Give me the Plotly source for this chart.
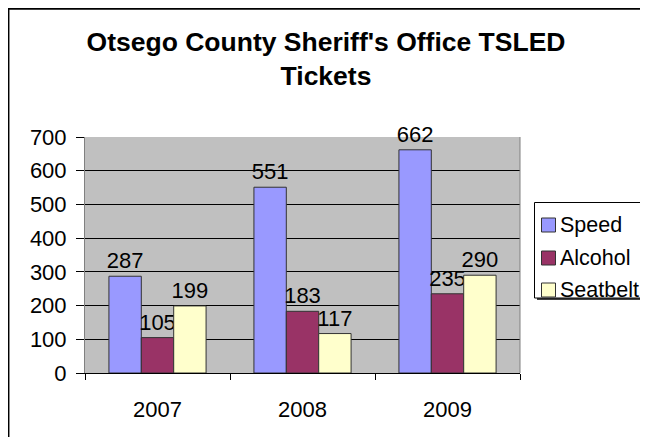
import plotly.graph_objects as go

years = ["2007", "2008", "2009"]
speed = [287, 551, 662]
alcohol = [105, 183, 235]
seatbelt = [199, 117, 290]
series_names = ["Speed", "Alcohol", "Seatbelt"]
colors = ["#9999FF", "#993366", "#FFFFCC"]
y_ticks = [0, 100, 200, 300, 400, 500, 600, 700]
title_text = "Otsego County Sheriff's Office TSLED<br>Tickets"

FONT = "Liberation Sans, Arial, sans-serif"
OFF = 8  # page body margin
W, H = 640, 429
L, R, T, B = 77, 128, 129, 64
PW, PH = W - L - R, H - T - B

def px_x(x_page):
    return (x_page - OFF - L) / PW

def px_y(y_page):
    return (H - B - (y_page - OFF)) / PH

fig = go.Figure()
for name, vals, col in zip(series_names, [speed, alcohol, seatbelt], colors):
    fig.add_trace(go.Bar(
        x=years, y=vals, name=name,
        marker=dict(color=col, line=dict(color="#333333", width=1)),
        text=[str(v) for v in vals], textposition="outside",
        textfont=dict(family=FONT, size=22, color="black"),
        constraintext="none", cliponaxis=False,
    ))

shapes = [
    # chart border (right/bottom run off the picture)
    dict(type="line", xref="paper", yref="paper", x0=px_x(OFF), x1=px_x(700),
         y0=px_y(OFF + 0.8), y1=px_y(OFF + 0.8), line=dict(color="black", width=2)),
    dict(type="line", xref="paper", yref="paper", x0=px_x(OFF + 0.7), x1=px_x(OFF + 0.7),
         y0=px_y(OFF), y1=px_y(500), line=dict(color="black", width=1.5)),
    # plot area border
    dict(type="line", xref="paper", yref="paper", x0=1, x1=1, y0=0, y1=1,
         line=dict(color="#808080", width=1)),
    # legend shadow + box
    dict(type="rect", xref="paper", yref="paper", x0=px_x(537), x1=px_x(700),
         y0=px_y(300), y1=px_y(205), fillcolor="#404040", line=dict(width=0)),
    dict(type="rect", xref="paper", yref="paper", x0=px_x(534.5), x1=px_x(700),
         y0=px_y(298), y1=px_y(202.5), fillcolor="white", line=dict(color="black", width=1)),
]
annotations = []
legend_y = [225, 258, 290]
for name, col, yc in zip(series_names, colors, legend_y):
    shapes.append(dict(type="rect", xref="paper", yref="paper",
                       x0=px_x(541.5), x1=px_x(555.5), y0=px_y(yc + 7), y1=px_y(yc - 7),
                       fillcolor=col, line=dict(color="#333333", width=1)))
    annotations.append(dict(text=name, xref="paper", yref="paper", x=px_x(558), y=px_y(yc),
                            xanchor="left", yanchor="middle", showarrow=False,
                            font=dict(family=FONT, size=21.5, color="black")))

fig.update_layout(
    width=W, height=H,
    margin=dict(l=L, r=R, t=T, b=B, autoexpand=False),
    paper_bgcolor="white",
    plot_bgcolor="#C0C0C0",
    barmode="group", bargap=0.33, bargroupgap=0,
    font=dict(family=FONT, size=22, color="black"),
    title=dict(text="<b>" + title_text + "</b>", x=318 / W, xref="container", xanchor="center",
               y=1 - 42.5 / H, yref="container", yanchor="top",
               font=dict(family=FONT, size=26.5, color="black")),
    showlegend=False,
    xaxis=dict(type="category", showgrid=False, showline=True, linecolor="black", linewidth=1,
               ticks="outside", tickson="boundaries", ticklen=6, tickcolor="black",
               ticklabelstandoff=17, tickfont=dict(family=FONT, size=22)),
    yaxis=dict(range=[0, 700], tickvals=y_ticks, showgrid=True, gridcolor="black", gridwidth=1,
               showline=True, linecolor="#808080", linewidth=1,
               ticks="outside", ticklen=8, tickcolor="black", ticklabelstandoff=5,
               tickfont=dict(family=FONT, size=22), zeroline=False),
    shapes=shapes,
    annotations=annotations,
)

fig.write_html("out.html")
